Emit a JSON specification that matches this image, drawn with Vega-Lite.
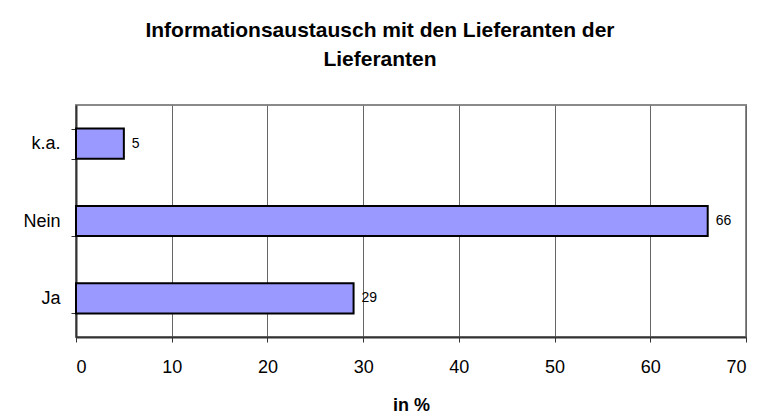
{
  "$schema": "https://vega.github.io/schema/vega-lite/v6.json",
  "width": 670,
  "height": 232,
  "autosize": {"type": "none"},
  "padding": {"left": 76, "top": 105, "right": 13, "bottom": 82},
  "background": "white",
  "config": {
    "font": "Liberation Sans",
    "view": {"stroke": "#8a8a8a", "strokeWidth": 2}
  },
  "title": {
    "text": ["Informationsaustausch mit den Lieferanten der", "Lieferanten"],
    "fontSize": 21,
    "fontWeight": "bold",
    "color": "#000",
    "anchor": "middle",
    "dx": -31,
    "offset": 26,
    "lineHeight": 29
  },
  "data": {
    "values": [
      {"Antwort": "k.a.", "Prozent": 5},
      {"Antwort": "Nein", "Prozent": 66},
      {"Antwort": "Ja", "Prozent": 29}
    ]
  },
  "encoding": {
    "y": {
      "field": "Antwort",
      "type": "nominal",
      "sort": ["k.a.", "Nein", "Ja"],
      "scale": {"paddingInner": 0.61, "paddingOuter": 0.305},
      "axis": {
        "title": null,
        "labelFontSize": 18,
        "labelColor": "#000",
        "labelPadding": 11,
        "tickBand": "extent",
        "tickSize": 5,
        "tickColor": "#333",
        "tickWidth": 1,
        "domainColor": "#333",
        "domainWidth": 2,
        "grid": false,
        "encode": {"labels": {"update": {"dx": {"signal": "datum.value === 'k.a.' ? -10 : 0"}}}}
      }
    },
    "x": {
      "field": "Prozent",
      "type": "quantitative",
      "scale": {"domain": [0, 70], "nice": false},
      "axis": {
        "title": "in %",
        "titleFontSize": 18,
        "titleFontWeight": "bold",
        "titleColor": "#000",
        "titlePadding": 20,
        "values": [0, 10, 20, 30, 40, 50, 60, 70],
        "labelFontSize": 18,
        "labelColor": "#000",
        "labelPadding": 16,
        "tickSize": 5,
        "tickColor": "#333",
        "domainColor": "#333",
        "domainWidth": 2,
        "grid": true,
        "gridColor": "#666",
        "gridWidth": 1
      }
    }
  },
  "layer": [
    {
      "mark": {"type": "bar", "fill": "#9999FF", "stroke": "#000", "strokeWidth": 2}
    },
    {
      "mark": {"type": "text", "align": "left", "baseline": "middle", "dx": 8, "fontSize": 14, "color": "#000"},
      "encoding": {"text": {"field": "Prozent", "type": "quantitative"}}
    }
  ]
}
